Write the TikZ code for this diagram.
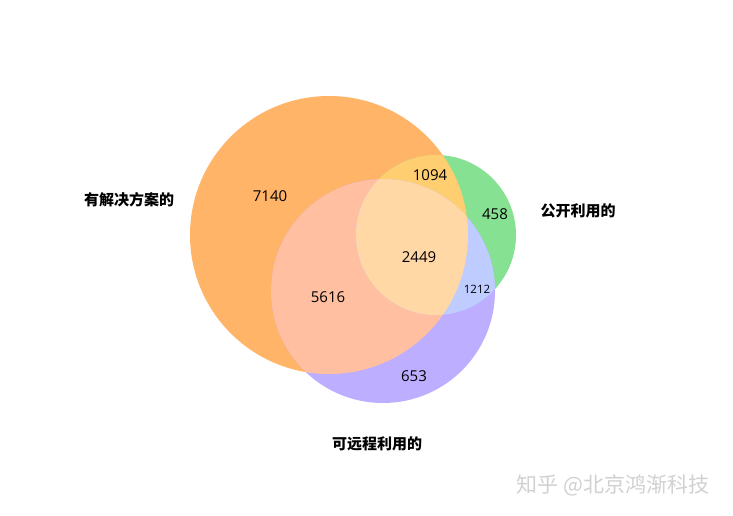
\documentclass[tikz,border=0pt]{standalone}
\usepackage{fontspec}
\newfontfamily\numfont{Open Sans}
\newfontfamily\cjk{Noto Sans CJK SC}
\definecolor{setorange}{RGB}{255,180,104}
\definecolor{setgreen}{RGB}{134,226,146}
\definecolor{setpurple}{RGB}{190,174,255}
\definecolor{ogyellow}{RGB}{255,206,112}
\definecolor{oppink}{RGB}{255,191,160}
\definecolor{gpblue}{RGB}{190,204,255}
\definecolor{allpeach}{RGB}{255,216,166}

\begin{document}
\begin{tikzpicture}[
  x=1pt, y=-1pt,
  num/.style={font=\numfont\fontsize{15}{15}\selectfont},
  smallnum/.style={font=\numfont\fontsize{11.5}{11.5}\selectfont},
  setlabel/.style={font=\cjk\bfseries\fontsize{15}{15}\selectfont},
  mark label/.style={font=\cjk\fontsize{21}{21}\selectfont, text=black!18}
]
\useasboundingbox (0,0) rectangle (733,515);
\fill[white] (0,0) rectangle (733,515);

% circle centres and radii
\coordinate (solved) at (329,235);
\coordinate (public) at (436,235);
\coordinate (remote) at (383,291);
\def\rsolved{139pt}
\def\rpublic{80pt}
\def\rremote{112pt}

% single sets
\fill[setorange] (solved) circle[radius=\rsolved];
\fill[setgreen] (public) circle[radius=\rpublic];
\fill[setpurple] (remote) circle[radius=\rremote];

% pairwise overlaps
\begin{scope}
  \clip (solved) circle[radius=\rsolved];
  \fill[ogyellow] (public) circle[radius=\rpublic];
  \fill[oppink] (remote) circle[radius=\rremote];
\end{scope}
\begin{scope}
  \clip (public) circle[radius=\rpublic];
  \fill[gpblue] (remote) circle[radius=\rremote];
\end{scope}

% all three
\begin{scope}
  \clip (solved) circle[radius=\rsolved];
  \clip (public) circle[radius=\rpublic];
  \fill[allpeach] (remote) circle[radius=\rremote];
\end{scope}

% counts
\node[num] (onlysolved) at (270,196) {7140};
\node[num] (solvedpublic) at (430,175) {1094};
\node[num] (onlypublic) at (495,214) {458};
\node[num] (allthree) at (419,257) {2449};
\node[num] (solvedremote) at (328,297) {5616};
\node[smallnum] (publicremote) at (477,289) {1212};
\node[num] (onlyremote) at (414,376) {653};

% set names
\node[setlabel] (solvedname) at (129,200) {有解决方案的};
\node[setlabel] (publicname) at (578,211) {公开利用的};
\node[setlabel] (remotename) at (377,444) {可远程利用的};

\node[mark label] (mark) at (613,485) {知乎 @北京鸿渐科技};
\end{tikzpicture}
\end{document}
